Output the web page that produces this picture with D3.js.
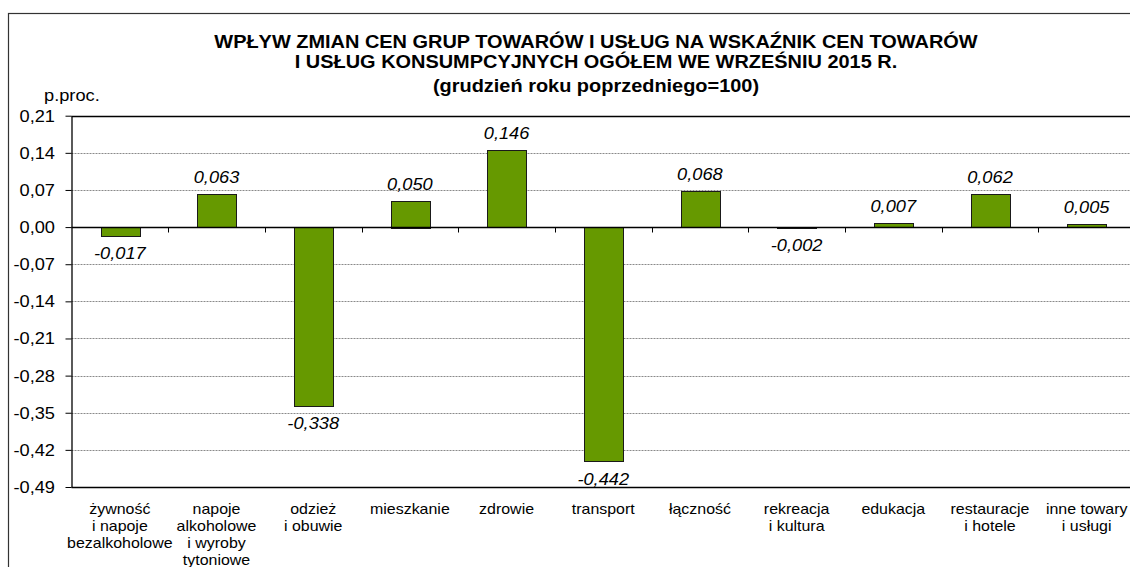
<!DOCTYPE html>
<html><head><meta charset="utf-8">
<script src="https://cdn.jsdelivr.net/npm/d3@7"></script>
<style>body{margin:0;background:#fff;}svg{display:block;font-family:"Liberation Sans",Arial,sans-serif;}</style>
</head><body><svg id="c" width="1130" height="567"></svg>
<script>
const categories = [
  ["żywność","i napoje","bezalkoholowe"],
  ["napoje","alkoholowe","i wyroby","tytoniowe"],
  ["odzież","i obuwie"],
  ["mieszkanie"],
  ["zdrowie"],
  ["transport"],
  ["łączność"],
  ["rekreacja","i kultura"],
  ["edukacja"],
  ["restauracje","i hotele"],
  ["inne towary","i usługi"]
];
const values = [-0.017, 0.063, -0.338, 0.050, 0.146, -0.442, 0.068, -0.002, 0.007, 0.062, 0.005];
const yTicks = [0.21, 0.14, 0.07, 0.00, -0.07, -0.14, -0.21, -0.28, -0.35, -0.42, -0.49];
const titleLines = ["WPŁYW ZMIAN CEN GRUP TOWARÓW I USŁUG NA WSKAŹNIK CEN TOWARÓW",
                    "I USŁUG KONSUMPCYJNYCH OGÓŁEM WE WRZEŚNIU 2015 R.",
                    "(grudzień roku poprzedniego=100)"];
const unitLabel = "p.proc.";

const SX = 1.14; // horizontal stretch of text in reference
const svg = d3.select("#c");
const L = 71.5, R = 1135, T = 115.7, B = 487;
const x = d3.scaleBand().domain(d3.range(categories.length)).range([L, R]).paddingInner(0).paddingOuter(0);
const y = d3.scaleLinear().domain([-0.49, 0.21]).range([B, T]);
const fmt2 = v => d3.format(".2f")(v).replace(".", ",").replace("−","-");
const fmt3 = v => d3.format(".3f")(v).replace(".", ",").replace("−","-");

function txt(g, str, px, py, opts) {
  const t = g.append("text")
    .attr("transform", `translate(${px},${py}) scale(${opts.sx || SX},1)`)
    .attr("text-anchor", opts.anchor || "middle")
    .style("font-size", opts.size + "px")
    .style("fill", "#000")
    .text(str);
  if (opts.weight) t.style("font-weight", opts.weight);
  if (opts.italic) t.style("font-style", "italic");
  return t;
}

// outer border
svg.append("rect").attr("x", 8.5).attr("y", 13.5).attr("width", 1200).attr("height", 700)
  .attr("fill", "none").attr("stroke", "#333").attr("stroke-width", 1.2);

// title
const tg = svg.append("g");
txt(tg, titleLines[0], 596, 48, {size: 17.5, weight: "bold"});
txt(tg, titleLines[1], 596, 68, {size: 17.5, weight: "bold"});
txt(tg, titleLines[2], 596, 92, {size: 17.5, weight: "bold"});
txt(tg, unitLabel, 44, 101, {size: 16, anchor: "start"});

// gridlines
svg.append("g").selectAll("line").data(yTicks.filter(v => v !== 0.21 && v !== -0.49 && v !== 0))
  .join("line")
  .attr("x1", L).attr("x2", R)
  .attr("y1", d => Math.round(y(d)) + 0.5).attr("y2", d => Math.round(y(d)) + 0.5)
  .attr("stroke", "#8a8a8a").attr("stroke-width", 1).attr("stroke-dasharray", "2,1");

// top & bottom frame lines
[0.21, -0.49].forEach(v => {
  svg.append("line").attr("x1", L).attr("x2", R)
    .attr("y1", Math.round(y(v)) + 0.5).attr("y2", Math.round(y(v)) + 0.5)
    .attr("stroke", "#000").attr("stroke-width", 1.3);
});

// y axis
const yAxis = d3.axisLeft(y).tickValues(yTicks).tickFormat("").tickSize(6).tickSizeOuter(0);
const ya = svg.append("g").attr("transform", `translate(${L},0)`).call(yAxis);
ya.select(".domain").attr("stroke", "#000").attr("stroke-width", 1.3);
ya.selectAll(".tick line").attr("stroke", "#000");
yTicks.forEach(v => txt(svg, fmt2(v), 55, y(v) + 6, {size: 16, anchor: "end"}));

// bars
const bw = x.bandwidth() * 0.4;
svg.append("g").selectAll("rect").data(values).join("rect")
  .attr("x", (d, i) => Math.round(x(i) + (x.bandwidth() - bw) / 2) + 0.5)
  .attr("width", Math.round(bw))
  .attr("y", d => Math.round(y(Math.max(0, d))) + 0.5)
  .attr("height", d => Math.max(1, Math.round(Math.abs(y(d) - y(0)))))
  .attr("fill", "#669900").attr("stroke", "#1a1a1a").attr("stroke-width", 1);

// zero line + category ticks
const z = Math.round(y(0)) + 0.5;
svg.append("line").attr("x1", L).attr("x2", R).attr("y1", z).attr("y2", z)
  .attr("stroke", "#000").attr("stroke-width", 1.3);
svg.append("g").selectAll("line").data(d3.range(1, categories.length)).join("line")
  .attr("x1", i => Math.round(x(i)) + 0.5).attr("x2", i => Math.round(x(i)) + 0.5)
  .attr("y1", z).attr("y2", z + 5).attr("stroke", "#000");

// value labels
values.forEach((v, i) => {
  const cx = x(i) + x.bandwidth() / 2;
  const py = v >= 0 ? y(v) - 11 : y(v) + 23;
  txt(svg, fmt3(v), cx, py, {size: 16, italic: true});
});

// category labels
categories.forEach((lines, i) => {
  const cx = x(i) + x.bandwidth() / 2;
  lines.forEach((ln, k) => txt(svg, ln, cx, 514 + k * 17, {size: 14}));
});
</script></body></html>
